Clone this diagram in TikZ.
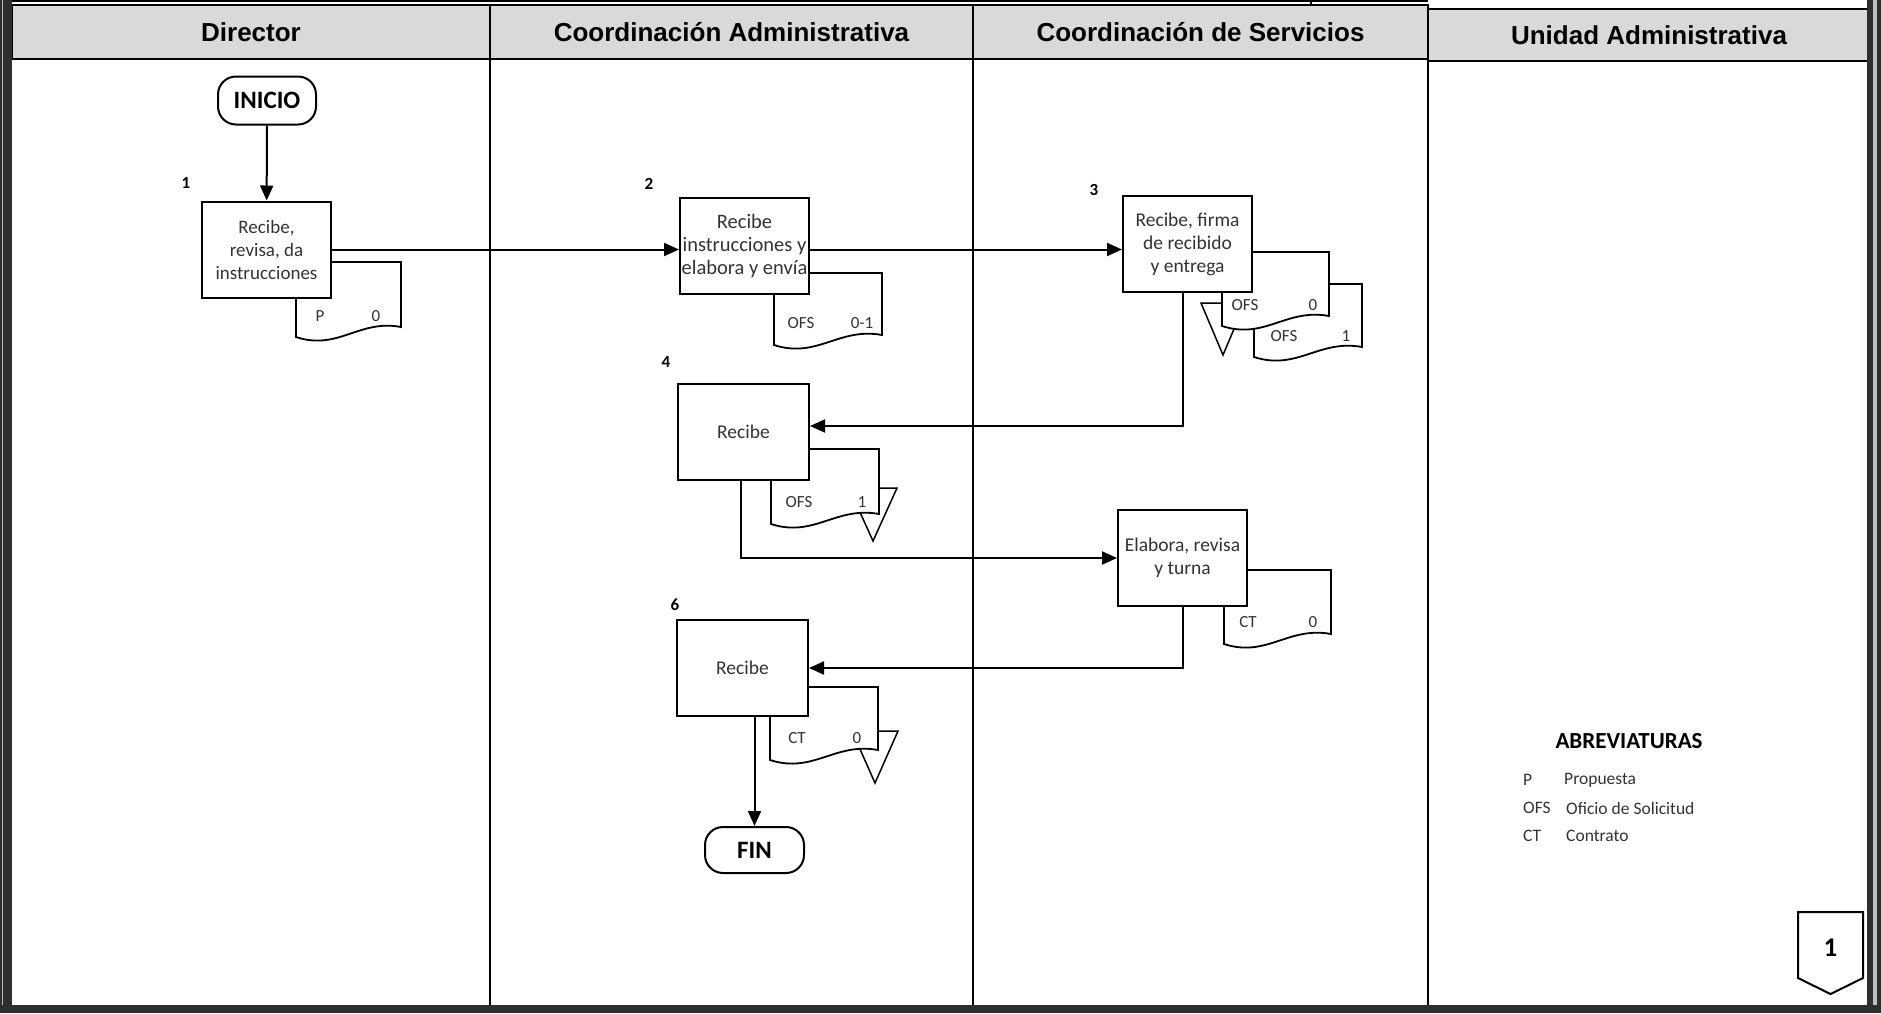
\documentclass[tikz,border=0pt]{standalone}
\usepackage{fontspec}
\setmainfont{Carlito}
\newfontfamily\hdrfont{Liberation Sans}
\usetikzlibrary{arrows.meta}
\definecolor{hdrgray}{HTML}{D9D9D9}
\definecolor{txt}{HTML}{333333}
\definecolor{framedark}{HTML}{2E2E2E}
\newcommand\docsh[4]{%
  \draw[line width=1.8pt, fill=white] (#1,#2) -- (#3,#2) -- (#3,#4)
    .. controls ({#1+0.6*(#3-#1)},{#4-8}) and ({#1+0.4*(#3-#1)},{#4+24}) .. (#1,{#4+10}) -- cycle;}
\newcommand\archtri[4]{%
  \draw[line width=1.5pt, fill=white] (#1,#3) -- (#2,#3) -- ({(#1+#2)/2},#4) -- cycle;}
\begin{document}
\begin{tikzpicture}[x=1pt,y=-1pt,
  proc/.style={draw, line width=2pt, fill=white, minimum width=129pt, minimum height=96pt,
    inner sep=0pt, align=center, text=txt, font=\fontsize{19.5}{23}\selectfont},
  term/.style={draw, line width=2pt, rounded corners=18pt, fill=white, minimum width=98pt,
    minimum height=48pt, inner sep=0pt, font=\fontsize{25}{25}\selectfont\bfseries},
  flow/.style={line width=2pt, -{Triangle[length=15pt,width=13pt]}},
  doclbl/.style={font=\fontsize{17}{17}\selectfont, text=txt, inner sep=0pt},
  num/.style={font=\fontsize{17}{17}\selectfont\bfseries, inner sep=0pt},
  hdr/.style={draw=black, line width=2.5pt, fill=hdrgray, inner sep=0pt,
    font=\hdrfont\fontsize{26}{26}\selectfont\bfseries},
  abbr/.style={font=\fontsize{17.5}{17.5}\selectfont, text=txt, inner sep=0pt, anchor=west}]
\useasboundingbox (0,0) rectangle (1881,1013);
\fill[white] (0,0) rectangle (1881,1013);

% top remnants
\draw[line width=1.5pt] (12,0.75) -- (1428,0.75);
\draw[line width=1.5pt] (1311,0) -- (1311,5);

% headers
\node[hdr, minimum width=478pt, minimum height=54pt] (h1) at (251,32) {Director};
\node[hdr, minimum width=483pt, minimum height=54pt] (h2) at (731.5,32) {Coordinación Administrativa};
\node[hdr, minimum width=455pt, minimum height=54pt] (h3) at (1200.5,32) {Coordinación de Servicios};
\node[hdr, minimum width=442pt, minimum height=52pt] (h4) at (1649,35) {Unidad Administrativa};

% column lines
\draw[line width=2pt] (490,59) -- (490,1008);
\draw[line width=2pt] (973,59) -- (973,1006);
\draw[line width=2pt] (1428,61) -- (1428,1006);

% outer frame
\fill[framedark] (0,0) rectangle (12,1013);
\fill[gray!55] (1.5,0) rectangle (3,1013);
\fill[framedark] (0,1005) rectangle (1881,1013);
\fill[framedark] (1867,0) rectangle (1873,1013);
\fill[gray!50] (1873,0) rectangle (1877,1005);
\fill[framedark] (1877,0) rectangle (1881,1013);

% archive triangles
\archtri{1201}{1245}{303}{355}
\archtri{849}{897}{488}{541}
\archtri{852}{898}{731}{783}

% documents
\docsh{296}{262}{401}{327}
\docsh{774}{273}{882}{335}
\docsh{1254}{284}{1362}{347}
\docsh{1222}{252}{1329}{316}
\docsh{771}{449}{879}{514}
\docsh{1224}{570}{1331}{634}
\docsh{770}{687}{878}{750}

\node[doclbl] (d1a) at (320,316) {P};
\node[doclbl] (d1b) at (376,316) {0};
\node[doclbl] (d2a) at (801,323) {OFS};
\node[doclbl] (d2b) at (862,323) {0-1};
\node[doclbl] (d3a) at (1245,305) {OFS};
\node[doclbl] (d3b) at (1313,305) {0};
\node[doclbl] (d3c) at (1284,336) {OFS};
\node[doclbl] (d3d) at (1346,336) {1};
\node[doclbl] (d4a) at (799,502) {OFS};
\node[doclbl] (d4b) at (862,502) {1};
\node[doclbl] (d5a) at (1248,622) {CT};
\node[doclbl] (d5b) at (1313,622) {0};
\node[doclbl] (d6a) at (797,738) {CT};
\node[doclbl] (d6b) at (857,738) {0};

% nodes
\node[term] (inicio) at (267,100.5) {INICIO};
\node[proc, font=\fontsize{19}{23}\selectfont] (b1) at (266.5,249.5) {Recibe,\\revisa, da\\instrucciones};
\node[proc, font=\fontsize{20.5}{23}\selectfont] (b2) at (744.5,246) {Recibe\\instrucciones y\\elabora y envía};
\node[proc] (b3) at (1187.5,244) {Recibe, firma\\de recibido\\y entrega};
\node[proc, minimum width=131pt] (b4) at (743.5,432) {Recibe};
\node[proc] (b5) at (1182.5,558) {Elabora, revisa\\y turna};
\node[proc, minimum width=131pt] (b6) at (742.5,668) {Recibe};
\node[term, minimum width=99pt, minimum height=46pt] (fin) at (754.5,850) {FIN};

% step numbers
\node[num] (n1) at (186,183) {1};
\node[num] (n2) at (649,184) {2};
\node[num] (n3) at (1094,190) {3};
\node[num] (n4) at (666,362) {4};
\node[num] (n6) at (675,605) {6};

% connectors
\draw[flow] (inicio) -- (b1);
\draw[flow] (b1.east) -- (b1.east -| b2.west);
\draw[flow] (b2.east |- b1.east) -- (b1.east -| b3.west);
\draw[flow] ([xshift=-5pt]b3.south) |- ([yshift=6pt]b4.east);
\draw[flow] ([xshift=-3pt]b4.south) |- (b5.west);
\draw[flow] (b5.south) |- (b6.east);
\draw[flow] (b6.south -| fin.north) -- (fin.north);

% abbreviations
\node[font=\fontsize{23}{23}\selectfont\bfseries, inner sep=0pt] (abbrT) at (1629,741) {ABREVIATURAS};
\node[abbr] (a1) at (1523,780) {P};
\node[abbr] (a1t) at (1564,780) {Propuesta};
\node[abbr] (a2) at (1523,808) {OFS};
\node[abbr] (a2t) at (1566,808) {Oficio de Solicitud};
\node[abbr] (a3) at (1523,836) {CT};
\node[abbr] (a3t) at (1566,836) {Contrato};

% page marker
\draw[line width=2pt, fill=white] (1798,912) -- (1863,912) -- (1863,978) -- (1830.5,994) -- (1798,978) -- cycle;
\node[font=\fontsize{27}{27}\selectfont\bfseries, inner sep=0pt] (pg) at (1830.5,948) {1};
\end{tikzpicture}
\end{document}
